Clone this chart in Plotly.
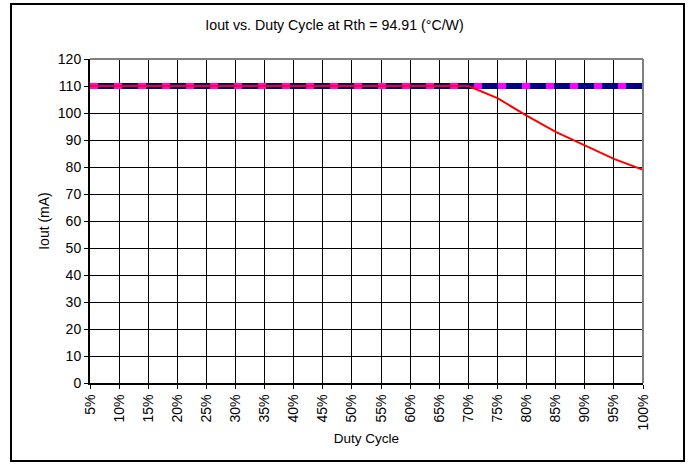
import plotly.graph_objects as go

duty = ["5%", "10%", "15%", "20%", "25%", "30%", "35%", "40%", "45%", "50%",
        "55%", "60%", "65%", "70%", "75%", "80%", "85%", "90%", "95%", "100%"]
iout_max = [110] * 20
iout_set = [110] * 20
iout_actual = [110, 110, 110, 110, 110, 110, 110, 110, 110, 110,
               110, 110, 110, 110, 105.5, 99, 93, 88, 83, 79]
y_ticks = list(range(0, 121, 10))

L, R, T, B = 90, 643, 59, 383
W, H = 690, 465
pw, ph = R - L, B - T

fig = go.Figure()
fig.add_trace(go.Scatter(x=duty, y=iout_max, mode="lines",
                         line=dict(color="#000080", width=6), showlegend=False))
fig.add_trace(go.Scatter(x=duty, y=iout_set, mode="lines",
                         line=dict(color="#FF00FF", width=6, dash="8px,16px"), showlegend=False))
fig.add_trace(go.Scatter(x=duty, y=iout_actual, mode="lines",
                         line=dict(color="#FF0000", width=2), showlegend=False))

fig.update_layout(
    width=W, height=H,
    margin=dict(l=L, r=W - R, t=T, b=H - B, autoexpand=False),
    paper_bgcolor="white", plot_bgcolor="white",
    font=dict(family="Liberation Sans, Arial, sans-serif", size=14, color="black"),
    title=dict(text="Iout vs. Duty Cycle at Rth = 94.91 (°C/W)", x=334.5 / W, xanchor="center",
               y=1 - 25 / H, yanchor="middle", font=dict(size=14.2)),
    xaxis=dict(type="category", range=[0, 19], showgrid=True, gridcolor="black", gridwidth=1,
               showline=True, linecolor="black", linewidth=2, ticks="outside", ticklen=4,
               tickcolor="black", tickangle=-90, tickfont=dict(size=14),
               title=dict(text="Duty Cycle", standoff=4, font=dict(size=13.5)), zeroline=False),
    yaxis=dict(range=[0, 120], tickvals=y_ticks, showgrid=True, gridcolor="black", gridwidth=1,
               showline=True, linecolor="black", linewidth=2, ticks="outside", ticklen=4,
               tickcolor="black", tickfont=dict(size=14),
               title=dict(text="Iout (mA)", standoff=5, font=dict(size=14)), zeroline=False),
    shapes=[
        dict(type="line", xref="paper", yref="paper", x0=0, x1=1, y0=1, y1=1,
             line=dict(color="#808080", width=2), layer="above"),
        dict(type="line", xref="paper", yref="paper", x0=1, x1=1, y0=0, y1=1,
             line=dict(color="#808080", width=2), layer="above"),
        dict(type="rect", xref="paper", yref="paper",
             x0=(11 - L) / pw, x1=(684 - L) / pw, y0=(B - 461) / ph, y1=(B - 4) / ph,
             line=dict(color="black", width=2), fillcolor="rgba(0,0,0,0)", layer="below"),
    ],
)

fig.write_html("out.html", config={"displayModeBar": False},
               post_script="document.body.style.margin='0';document.body.style.overflow='hidden';")
